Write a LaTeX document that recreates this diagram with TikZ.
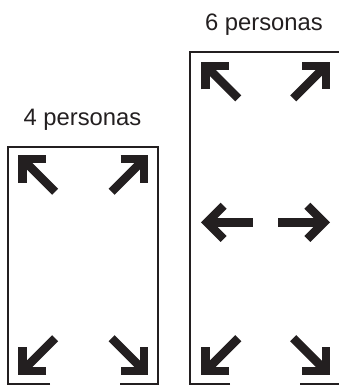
\documentclass[tikz,border=0pt]{standalone}
\usepackage{fontspec}
\setmainfont{Liberation Sans}
\definecolor{ink}{HTML}{231F20}
\tikzset{
  boxline/.style={draw=ink, line width=2pt, line join=miter},
  arrowline/.style={draw=ink, line width=8.5pt, line cap=butt, line join=miter, miter limit=10},
  label/.style={font=\fontsize{23.8}{28}\selectfont, text=ink, anchor=base, inner sep=0pt},
  bigarrow/.pic={
    \draw[arrowline] (-6,0) -- (-52,0);
    \draw[arrowline] (-22.6,-16.6) -- (-6,0) -- (-22.6,16.6);
  }
}
\begin{document}
\begin{tikzpicture}[x=1pt,y=-1pt]
\useasboundingbox (0,0) rectangle (339,386);
\clip (0,0) rectangle (339,386);
% left box
\coordinate (L1) at (50,384);
\coordinate (L2) at (8,384);
\coordinate (L3) at (8,146.5);
\coordinate (L4) at (158,146.5);
\coordinate (L5) at (158,384);
\coordinate (L6) at (120,384);
\draw[boxline] (L1) -- (L2) -- (L3) -- (L4) -- (L5) -- (L6);
% right box
\coordinate (R1) at (230,384);
\coordinate (R2) at (189.5,384);
\coordinate (R3) at (189.5,52);
\coordinate (R4) at (342,52);
\coordinate (R5) at (342,384);
\coordinate (R6) at (300,384);
\draw[boxline] (R1) -- (R2) -- (R3) -- (R4) -- (R5) -- (R6);
% labels
\node[label] (t4) at (82.5,125) {4 personas};
\node[label] (t6) at (264,30) {6 personas};
% left box arrows
\pic[rotate=135] at (18.3,155) {bigarrow};
\pic[rotate=45] at (148.3,155) {bigarrow};
\pic[rotate=-135] at (18.3,375) {bigarrow};
\pic[rotate=-45] at (148.3,375) {bigarrow};
% right box arrows
\pic[rotate=135] at (201.5,61.7) {bigarrow};
\pic[rotate=45] at (330,61.7) {bigarrow};
\pic[rotate=180] at (201,222.3) {bigarrow};
\pic[rotate=0] at (330,222.3) {bigarrow};
\pic[rotate=-135] at (201.5,375) {bigarrow};
\pic[rotate=-45] at (330,375) {bigarrow};
\end{tikzpicture}
\end{document}
